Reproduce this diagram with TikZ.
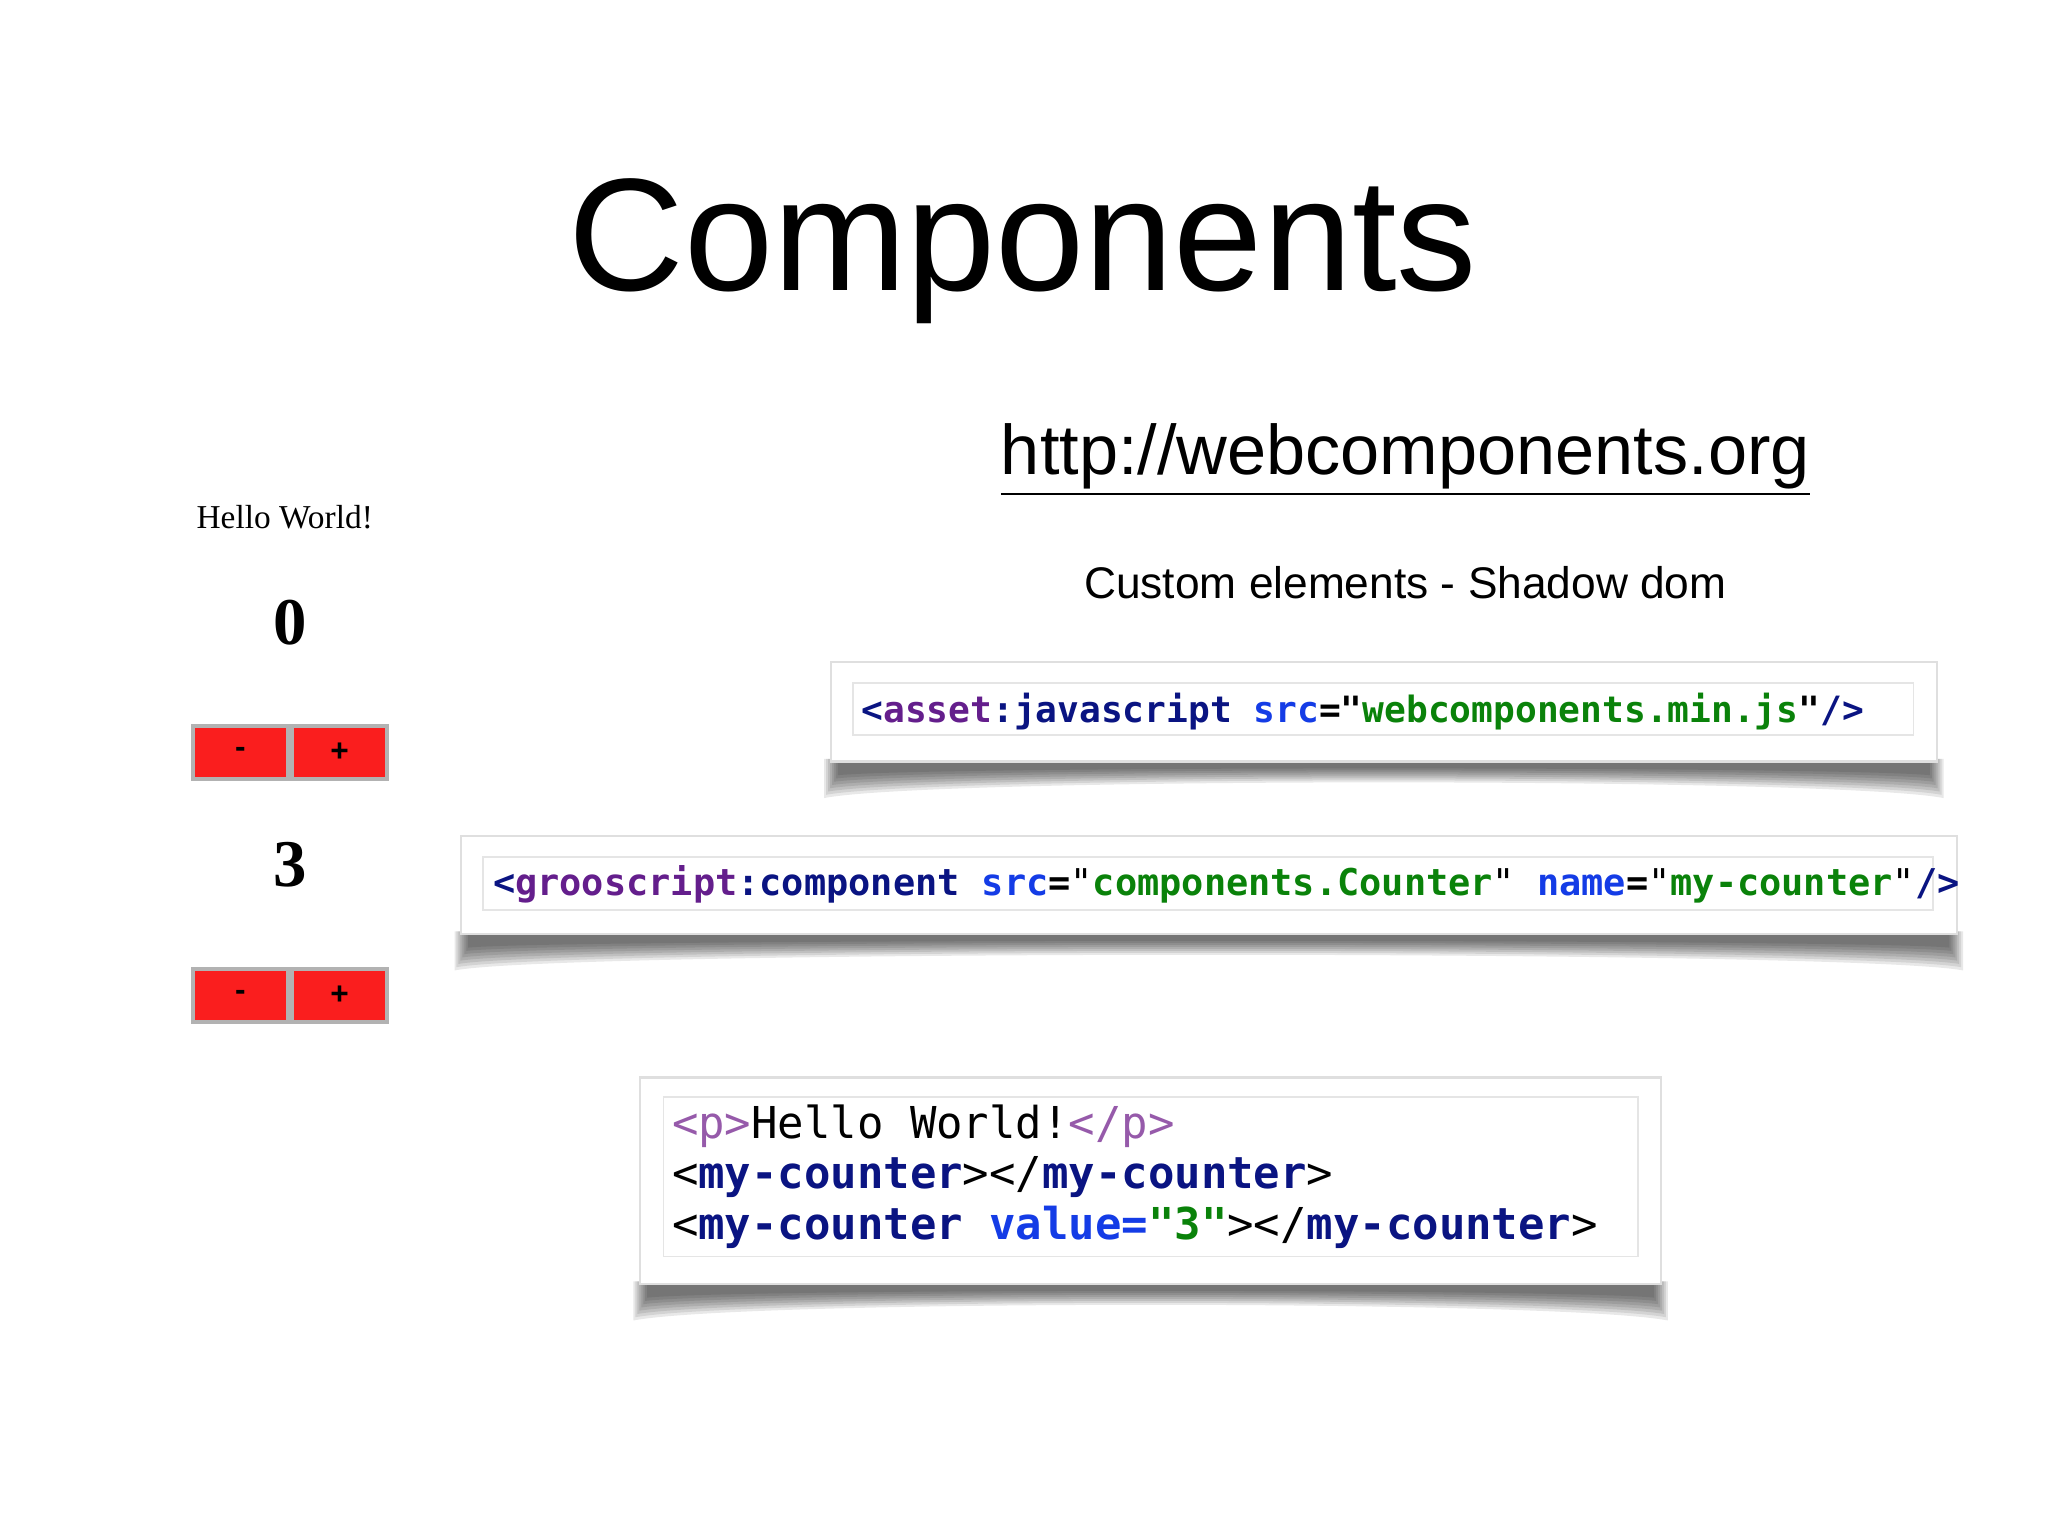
\documentclass[tikz,border=0pt]{standalone}
\usepackage{fontspec}
\setmainfont{Liberation Sans}
\setmonofont{DejaVu Sans Mono}
\newfontfamily\serifb{Liberation Serif}
\definecolor{tagc}{RGB}{100,30,140}
\definecolor{navy}{RGB}{10,20,130}
\definecolor{attr}{RGB}{20,60,230}
\definecolor{str}{RGB}{10,130,10}
\definecolor{ptag}{RGB}{150,90,170}
\definecolor{btnred}{RGB}{250,30,30}
\tikzset{
  btn/.style={fill=btnred,draw=gray!60,line width=1.2pt,minimum width=0.95cm,minimum height=0.53cm,inner sep=0pt,font=\bfseries\fontsize{9}{9}\selectfont},
  outerbox/.style={fill=white,draw=gray!25,line width=0.6pt},
  innerbox/.style={fill=white,draw=gray!20,line width=0.5pt},
  code/.style={anchor=west,inner sep=0pt,font=\ttfamily\fontsize{10.3}{12}\selectfont},
}
\newcommand{\shadowunder}[3]{% x1 x2 ybottom
  \foreach \k in {0,...,7}{
    \fill[black,opacity=0.09] (#1-3+\k*1.5,#3-2) -- (#2+3-\k*1.5,#3-2)
      -- (#2+3-\k*1.5,#3+28-\k*2.5) .. controls (#2-80,#3+12-\k*1.2) and (#1+80,#3+12-\k*1.2) .. (#1-3+\k*1.5,#3+28-\k*2.5) -- cycle;
  }
}
\begin{document}
\begin{tikzpicture}[x=0.013061cm,y=-0.013061cm]
\useasboundingbox (0,0) rectangle (1568,1176);
\fill[white] (0,0) rectangle (1568,1176);
\node (title) at (783,192) {\fontsize{45.6}{50}\selectfont Components};
\node (url) at (1076,352) {\fontsize{20}{24}\selectfont\underline{http://webcomponents.org}};
\node (sub) at (1076,446) {\fontsize{12.6}{15}\selectfont Custom elements - Shadow dom};
% left panel
\node (hello) at (218,396) {\serifb\fontsize{9.5}{11}\selectfont Hello World!};
\node (zero) at (222,477) {\serifb\bfseries\fontsize{19}{22}\selectfont 0};
\node[btn] (m1) at (184,576) {-};
\node[btn] (p1) at (260,576) {+};
\node (three) at (222,662) {\serifb\bfseries\fontsize{19}{22}\selectfont 3};
\node[btn] (m2) at (184,762) {-};
\node[btn] (p2) at (260,762) {+};
% box 1
\shadowunder{634}{1485}{583}
\draw[outerbox] (636,507) rectangle (1483,583);
\draw[innerbox] (653,523) rectangle (1465,563);
\node[code] (c1) at (659,545) {\bfseries\textcolor{navy}{<}\textcolor{tagc}{asset}\textcolor{navy}{:javascript} \textcolor{attr}{src}\textcolor{black}{=}\textcolor{black}{"}\textcolor{str}{webcomponents.min.js}\textcolor{black}{"}\textcolor{navy}{/>}};
% box 2
\shadowunder{351}{1500}{715}
\draw[outerbox] (353,640) rectangle (1498,715);
\draw[innerbox] (370,656) rectangle (1480,697);
\node[code,font=\ttfamily\fontsize{10.5}{12}\selectfont] (c2) at (377,677) {\bfseries\textcolor{navy}{<}\textcolor{tagc}{grooscript}\textcolor{navy}{:component} \textcolor{attr}{src}=\mdseries"\bfseries\textcolor{str}{components.Counter}\mdseries"\bfseries{} \textcolor{attr}{name}=\mdseries"\bfseries\textcolor{str}{my-counter}\mdseries"\bfseries\textcolor{navy}{/>}};
% box 3
\shadowunder{488}{1274}{983}
\draw[outerbox] (490,825) rectangle (1272,983);
\draw[innerbox] (508,840) rectangle (1254,962);
\node[code,font=\ttfamily\fontsize{12.5}{15}\selectfont] (l1) at (514,862) {\textcolor{ptag}{<p>}Hello World!\textcolor{ptag}{</p>}};
\node[code,font=\ttfamily\fontsize{12.5}{15}\selectfont] (l2) at (514,901) {<\textcolor{navy}{\bfseries my-counter}></\textcolor{navy}{\bfseries my-counter}>};
\node[code,font=\ttfamily\fontsize{12.5}{15}\selectfont] (l3) at (514,940) {<\textcolor{navy}{\bfseries my-counter} \textcolor{attr}{\bfseries value=}\textcolor{str}{\bfseries"3"}></\textcolor{navy}{\bfseries my-counter}>};
\end{tikzpicture}
\end{document}
